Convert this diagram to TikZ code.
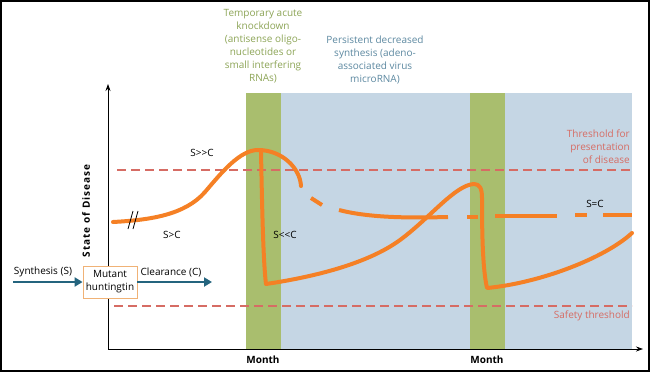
\documentclass[tikz,border=0pt]{standalone}
\usepackage{fontspec}
\setmainfont{Open Sans}
\usetikzlibrary{arrows.meta}

\definecolor{hdorange}{RGB}{245,128,37}
\definecolor{kdgreen}{RGB}{169,190,110}
\definecolor{kdtext}{RGB}{140,164,86}
\definecolor{aavblue}{RGB}{197,214,228}
\definecolor{aavtext}{RGB}{92,136,160}
\definecolor{threshred}{RGB}{214,108,100}
\definecolor{flowteal}{RGB}{36,100,126}
\definecolor{boxedge}{RGB}{240,178,118}

\begin{document}
\begin{tikzpicture}[x=1pt,y=-1pt,
  curve/.style={draw=hdorange, line width=4pt, line cap=round},
  gapcurve/.style={draw=hdorange, line width=4pt},
  thresh/.style={draw=threshred, line width=1.2pt, dash pattern=on 9pt off 5pt},
  axis/.style={draw=black, line width=0.8pt, -{Stealth[length=7pt,width=5pt]}},
  flow/.style={draw=flowteal, line width=2.6pt, -{Triangle[length=8pt,width=9pt]}},
  lbl/.style={font=\fontsize{10}{13}\selectfont, inner sep=0pt},
  month/.style={font=\fontsize{10}{12}\selectfont\bfseries, inner sep=0pt}]
\useasboundingbox (0,0) rectangle (650,372);
\draw[line width=2pt] (1,1) rectangle (649,371);

% treatment windows
\fill[aavblue] (281,93) rectangle (632,349);
\fill[kdgreen] (246,93) rectangle (281,349);
\fill[kdgreen] (470,93) rectangle (505,349);

% axes
\coordinate (O) at (108,349);
\coordinate (Ytop) at (108,84);
\coordinate (Xend) at (643,349);
\draw[axis] (O) -- (Ytop);
\draw[axis] (O) -- (Xend);

% thresholds
\draw[thresh] (117,170) -- (632,170);
\draw[thresh] (114,306) -- (632,306);

% untreated course
\draw[curve] (113,222) .. controls (150,220) and (185,215) .. (205,192)
  .. controls (222,172) and (240,150) .. (258,150)
  .. controls (282,150) and (300,168) .. (301,186);
\draw[gapcurve] (311,198) -- (322,205);
\draw[gapcurve] (339,210) .. controls (370,218) and (410,218) .. (448,217);
\draw[gapcurve] (467,217) -- (478,217);
\draw[gapcurve] (495,216) -- (557,216);
\draw[gapcurve] (575,215) -- (587,215);
\draw[gapcurve] (603,215) -- (632,215);

% treated course
\draw[curve, line join=round] (261,152) .. controls (262,200) and (263,260) .. (266,284)
  .. controls (320,276) and (370,262) .. (400,240)
  .. controls (430,218) and (455,185) .. (474,184)
  .. controls (480,184) and (482,189) .. (482,198)
  .. controls (482,240) and (483,270) .. (487,288)
  .. controls (540,283) and (605,258) .. (632,233);

% break mark
\draw[line width=0.8pt] (128,229) -- (133,211);
\draw[line width=0.8pt] (133,229) -- (138,211);

% flow
\node[lbl, draw=boxedge, fill=white, line width=0.8pt, minimum width=54pt,
  minimum height=32pt, align=center] (htt) at (110,282) {Mutant\\huntingtin};
\coordinate (synS) at (13,282);
\coordinate (clrC) at (212,282);
\draw[flow] (synS) -- (htt);
\draw[flow] (htt) -- (clrC);
\node[lbl] (synth) at (43,272) {Synthesis (S)};
\node[lbl] (clear) at (171,272) {Clearance (C)};

% labels
\node[lbl, text=kdtext, align=center] (kd) at (263,46.5)
  {Temporary acute\\knockdown\\(antisense oligo-\\nucleotides or\\small interfering\\RNAs)};
\node[lbl, text=aavtext, align=center] (aav) at (375,59.5)
  {Persistent decreased\\synthesis (adeno-\\associated virus\\microRNA)};
\node[lbl, text=threshred, align=right, anchor=east] (tpres) at (630,147)
  {Threshold for\\presentation\\of disease};
\node[lbl, text=threshred, anchor=east] (tsafe) at (630,316) {Safety threshold};
\node[lbl] (sgg) at (202,153) {S>{}>C};
\node[lbl] (sg) at (172,235) {S>C};
\node[lbl] (sll) at (285,235) {S<{}<C};
\node[lbl] (seq) at (595,204) {S=C};
\node[month] (m1) at (263,360) {Month};
\node[month] (m2) at (487,360) {Month};
\node[month, rotate=90] (ylab) at (86,211)
  {\addfontfeature{LetterSpace=10}State of Disease};
\end{tikzpicture}
\end{document}
